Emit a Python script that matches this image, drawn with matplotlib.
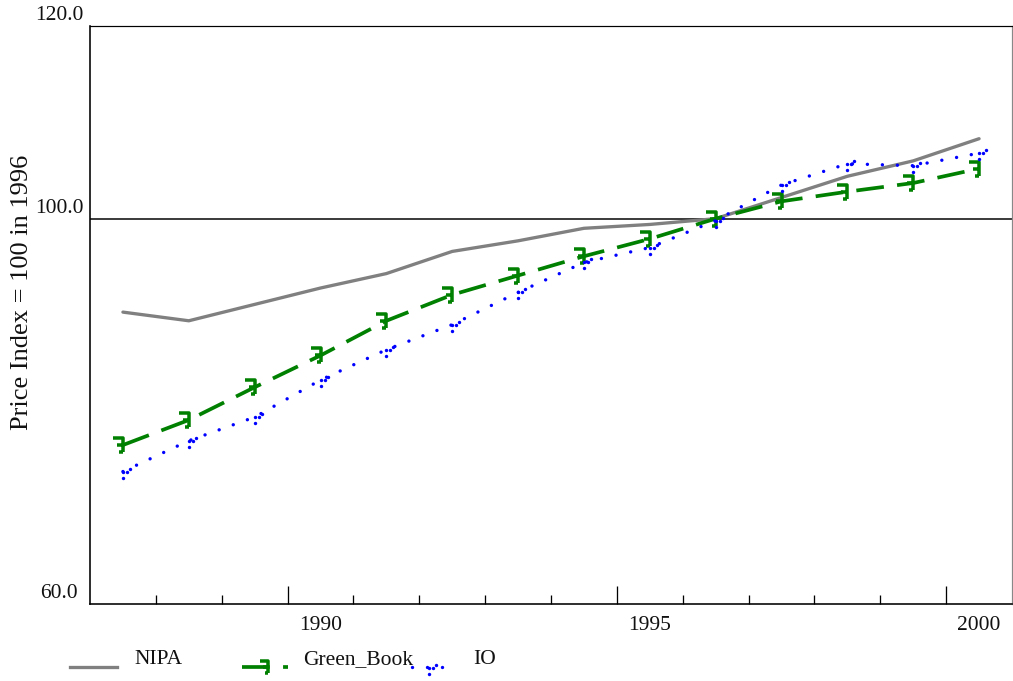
import matplotlib
matplotlib.use("Agg")
import matplotlib.pyplot as plt
import numpy as np
from matplotlib.path import Path
from matplotlib.lines import Line2D

plt.rcParams['font.family'] = ['Liberation Serif', 'DejaVu Serif']

years = [1987, 1988, 1989, 1990, 1991, 1992, 1993, 1994, 1995, 1996, 1997, 1998, 1999, 2000]
nipa = [90.3, 89.4, 91.1, 92.8, 94.3, 96.6, 97.7, 99.0, 99.4, 100.0, 102.2, 104.4, 106.0, 108.3]
green_book = [76.5, 79.1, 82.5, 85.8, 89.4, 92.1, 94.1, 96.1, 97.9, 100.0, 101.8, 102.8, 103.7, 105.2]
io = [73.75, 76.95, 79.4, 83.25, 86.4, 89.0, 92.35, 95.45, 97.0, 99.8, 103.5, 105.7, 105.5, 106.8]
series_labels = ["NIPA", "Green_Book", "IO"]
ytick_vals = [60.0, 100.0, 120.0]
xlabel_years = [1990, 1995, 2000]

W, H = 1013, 681
fig = plt.figure(figsize=(W / 100, H / 100), dpi=100)
ax = fig.add_axes([90 / W, 1 - 604 / H, 922 / W, 578 / H])

xpos = np.array(years) + 0.5

# custom markers
gb_verts = [(-10, 7), (0, 7), (0, -7), (-6, 0), (0, 0), (-4, -7), (0, -7)]
gb_codes = [Path.MOVETO, Path.LINETO, Path.LINETO, Path.MOVETO, Path.LINETO, Path.MOVETO, Path.LINETO]
gb_marker = Path(gb_verts, gb_codes)

dots = [(0, 0), (0, -6), (4, 0), (7, 3)]
io_marker = Path.make_compound_path(*[Path.circle(c, 1.7) for c in dots])

pt = 0.72  # px -> pt at dpi 100

ax.axhline(100, color='black', lw=1.5 * pt, zorder=1)

ax.plot(xpos, nipa, color='#808080', lw=3.3 * pt, solid_capstyle='round', zorder=3)
ax.plot(xpos, green_book, color='#008000', lw=3.7 * pt, dashes=(7.5, 3.6),
        dash_capstyle='butt', zorder=4)
ax.plot(xpos, green_book, ls='none', marker=gb_marker, markersize=21 * pt,
        markerfacecolor='none', markeredgecolor='#008000', markeredgewidth=3.5 * pt, zorder=4)
ax.plot(xpos, io, color='#0000ff', lw=3.4 * pt, dashes=(0.01, 4.4),
        dash_capstyle='round', zorder=5)
ax.plot(xpos, io, ls='none', marker=io_marker, markersize=17.4 * pt,
        markerfacecolor='#0000ff', markeredgewidth=0, zorder=5)

ax.set_xlim(1987, 2001)
ax.set_ylim(60, 120)

ax.set_xticks(xlabel_years)
ax.set_xticklabels([''] * len(xlabel_years))
ax.set_xticks([y for y in range(1988, 2001) if y not in xlabel_years], minor=True)
ax.tick_params(axis='x', which='major', direction='in', length=18 * pt, width=1.3 * pt, color='black')
ax.tick_params(axis='x', which='minor', direction='in', length=9 * pt, width=1.3 * pt, color='black')
ax.set_yticks([])

for y in xlabel_years:
    ax.text(y + 0.5, -21 / 578, str(y), transform=ax.get_xaxis_transform(),
            ha='center', va='center', fontsize=15.5, color='#111111')

for v in ytick_vals:
    ax.annotate(f"{v:.1f}", xy=(0, v), xycoords=('axes fraction', 'data'),
                xytext=(-31 * pt, 10 * pt), textcoords='offset points',
                ha='center', va='center', fontsize=15.5, color='#111111', annotation_clip=False)

for s in ['left', 'bottom']:
    ax.spines[s].set_color('black')
    ax.spines[s].set_linewidth(1.6 * pt)
ax.spines['top'].set_color('black')
ax.spines['top'].set_linewidth(1.2 * pt)
ax.spines['right'].set_color('#888888')
ax.spines['right'].set_linewidth(1.2 * pt)

fig.text(22 / W, 1 - 292 / H, "Price Index = 100 in 1996", rotation=90,
         ha='center', va='center', fontsize=19, color='#111111')

# legend (manual, fixed columns)
ft = fig.transFigure
def fx(px):
    return px / W
def fy(py):
    return 1 - py / H

ly = 667
fig.add_artist(Line2D([fx(70), fx(117)], [fy(ly), fy(ly)], color='#808080', lw=3.3 * pt, transform=ft))
fig.text(fx(134), fy(660), series_labels[0], ha='left', va='center', fontsize=15.5, color='#111111')

fig.add_artist(Line2D([fx(242), fx(288)], [fy(ly), fy(ly)], color='#008000', lw=3.7 * pt,
                      dashes=(7.5, 3.6), transform=ft))
fig.add_artist(Line2D([fx(268)], [fy(ly)], ls='none', marker=gb_marker, markersize=16 * pt,
                      markerfacecolor='none', markeredgecolor='#008000', markeredgewidth=3.5 * pt,
                      transform=ft))
fig.text(fx(303), fy(660), series_labels[1], ha='left', va='center', fontsize=15.5, color='#111111')

fig.add_artist(Line2D([fx(412), fx(446)], [fy(ly), fy(ly)], color='#0000ff', lw=3.4 * pt,
                      dashes=(0.01, 4.4), dash_capstyle='round', transform=ft))
fig.add_artist(Line2D([fx(429)], [fy(ly + 1)], ls='none', marker=io_marker, markersize=17.4 * pt,
                      markerfacecolor='#0000ff', markeredgewidth=0, transform=ft))
fig.text(fx(473), fy(660), series_labels[2], ha='left', va='center', fontsize=15.5, color='#111111')

fig.savefig("out.png", dpi=100)
